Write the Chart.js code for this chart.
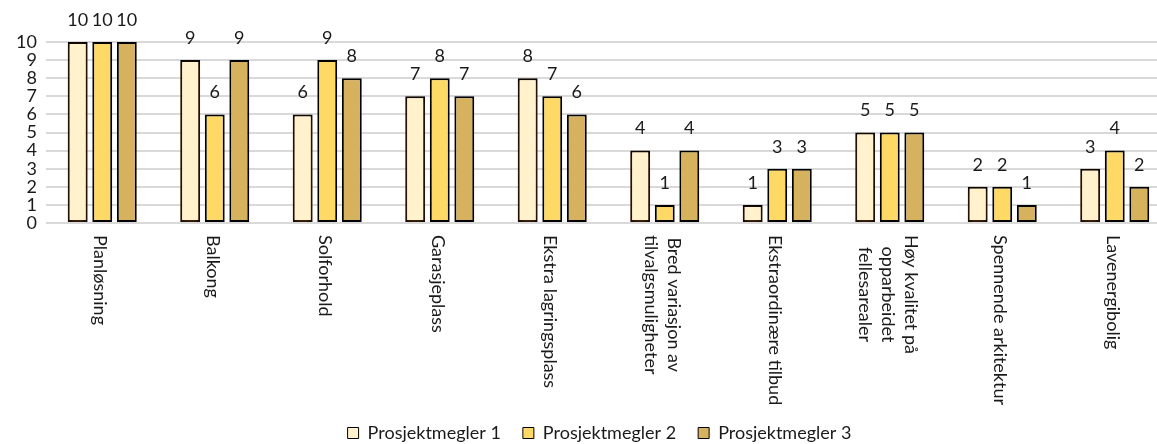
<!DOCTYPE html>
<html>
<head>
<meta charset="utf-8">
<script src="https://cdn.jsdelivr.net/npm/chart.js@4/dist/chart.umd.min.js"></script>
<style>
  html, body { margin: 0; padding: 0; overflow: hidden; background: #ffffff; }
  #wrap { width: 1200px; height: 444px; }
</style>
</head>
<body>
<div id="wrap"><canvas id="chart" width="1200" height="444"></canvas></div>
<script>
// Category labels (multi-line labels are given as arrays of lines)
const categories = [
  'Planløsning',
  'Balkong',
  'Solforhold',
  'Garasjeplass',
  'Ekstra lagringsplass',
  ['Bred variasjon av', 'tilvalgsmuligheter'],
  'Ekstraordinære tilbud',
  ['Høy kvalitet på', 'opparbeidet', 'fellesarealer'],
  'Spennende arkitektur',
  'Lavenergibolig'
];

const seriesNames = ['Prosjektmegler 1', 'Prosjektmegler 2', 'Prosjektmegler 3'];

// Scores given by each broker
const megler1 = [10, 9, 6, 7, 8, 4, 1, 5, 2, 3];
const megler2 = [10, 6, 9, 8, 7, 1, 3, 5, 2, 4];
const megler3 = [10, 9, 8, 7, 6, 4, 3, 5, 1, 2];

const yTicks = [0, 1, 2, 3, 4, 5, 6, 7, 8, 9, 10];

const FONT = 'Lato, "Open Sans", sans-serif';
const FONT_SIZE = 18;
const TEXT_COLOR = '#1a1a1a';
const fills = ['#FFF2CC', '#FFD966', '#D6B25F'];

// Soft orange glow behind the first series
const glowPlugin = {
  id: 'glow',
  beforeDatasetDraw(chart, args) {
    if (args.index !== 0) return;
    const ctx = chart.ctx;
    ctx.save();
    ctx.shadowColor = 'rgba(240, 120, 40, 0.4)';
    ctx.shadowBlur = 6;
    ctx.shadowOffsetX = 0;
    ctx.shadowOffsetY = 2;
  },
  afterDatasetDraw(chart, args) {
    if (args.index !== 0) return;
    chart.ctx.restore();
  }
};

// Value labels above each bar
const valueLabels = {
  id: 'valueLabels',
  afterDatasetsDraw(chart) {
    const ctx = chart.ctx;
    ctx.save();
    ctx.font = FONT_SIZE + 'px ' + FONT;
    ctx.fillStyle = TEXT_COLOR;
    ctx.textAlign = 'center';
    ctx.textBaseline = 'middle';
    chart.data.datasets.forEach((ds, di) => {
      const meta = chart.getDatasetMeta(di);
      meta.data.forEach((bar, i) => {
        ctx.fillText(String(ds.data[i]), bar.x, bar.y - 22);
      });
    });
    ctx.restore();
  }
};

// Category labels written top-to-bottom under each group
const categoryLabels = {
  id: 'categoryLabels',
  afterDraw(chart) {
    const ctx = chart.ctx;
    const xScale = chart.scales.x;
    const top = chart.chartArea.bottom + 12;
    const pitch = 23;
    ctx.save();
    ctx.font = FONT_SIZE + 'px ' + FONT;
    ctx.fillStyle = TEXT_COLOR;
    ctx.textAlign = 'center';
    ctx.textBaseline = 'middle';
    categories.forEach((label, i) => {
      const lines = Array.isArray(label) ? label : [label];
      const n = lines.length;
      const maxW = Math.max(...lines.map(l => ctx.measureText(l).width));
      const cx = xScale.getPixelForValue(i) - 2;
      lines.forEach((line, j) => {
        ctx.save();
        ctx.translate(cx + ((n - 1) / 2 - j) * pitch, top + maxW / 2);
        ctx.rotate(Math.PI / 2);
        ctx.fillText(line, 0, 0);
        ctx.restore();
      });
    });
    ctx.restore();
  }
};

// Centre the legend on the full canvas width and nudge it down
const legendPlacement = {
  id: 'legendPlacement',
  afterLayout(chart) {
    const lg = chart.legend;
    if (!lg) return;
    lg.left += 14;
    lg.right += 14;
    lg.top += 8;
    lg.bottom += 8;
  }
};

const datasets = [megler1, megler2, megler3].map((data, k) => ({
  label: seriesNames[k],
  data: data,
  backgroundColor: fills[k],
  borderColor: '#000000',
  borderWidth: 2,
  borderSkipped: false,
  categoryPercentage: 0.655,
  barPercentage: 0.81
}));

new Chart(document.getElementById('chart'), {
  type: 'bar',
  data: { labels: categories, datasets: datasets },
  options: {
    responsive: false,
    devicePixelRatio: 1,
    animation: false,
    layout: { padding: { top: 42, right: 29, left: 0, bottom: 0 } },
    scales: {
      x: {
        grid: { display: false },
        border: { display: false },
        ticks: { display: false },
        afterFit(scale) { scale.height = 171; }
      },
      y: {
        min: 0,
        max: 10,
        afterBuildTicks(scale) { scale.ticks = yTicks.map(v => ({ value: v })); },
        grid: { color: '#d9d9d9', lineWidth: 2, drawTicks: false },
        border: { display: false },
        ticks: {
          autoSkip: false,
          padding: 9,
          color: TEXT_COLOR,
          font: { family: FONT, size: FONT_SIZE }
        },
        afterFit(scale) { scale.width = 46; }
      }
    },
    plugins: {
      legend: {
        position: 'bottom',
        labels: {
          boxWidth: 11,
          boxHeight: 11,
          padding: 22,
          color: TEXT_COLOR,
          font: { family: FONT, size: FONT_SIZE },
          generateLabels(chart) {
            return chart.data.datasets.map((ds, i) => ({
              text: ds.label,
              fillStyle: ds.backgroundColor,
              strokeStyle: '#000000',
              lineWidth: 1,
              datasetIndex: i,
              hidden: false,
              fontColor: TEXT_COLOR
            }));
          }
        }
      },
      tooltip: { enabled: false }
    }
  },
  plugins: [glowPlugin, valueLabels, categoryLabels, legendPlacement]
});
</script>
</body>
</html>
